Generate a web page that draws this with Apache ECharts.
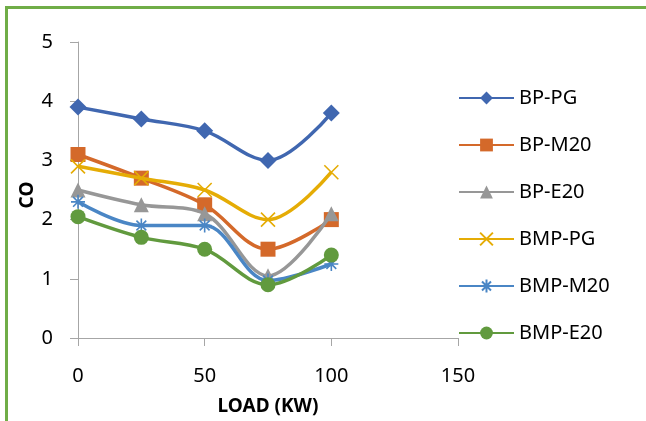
<!DOCTYPE html>
<html>
<head>
<meta charset="utf-8">
<script src="https://cdn.jsdelivr.net/npm/echarts@6/dist/echarts.min.js"></script>
<style>
html,body{margin:0;padding:0;background:#fff;}
#chart{width:646px;height:421px;}
</style>
</head>
<body>
<div id="chart"></div>
<script>
var loads = [0, 25, 50, 75, 100];
var bpPG   = [3.9, 3.7, 3.5, 3.0, 3.8];
var bpM20  = [3.1, 2.7, 2.25, 1.5, 2.0];
var bpE20  = [2.5, 2.25, 2.1, 1.05, 2.1];
var bmpPG  = [2.9, 2.7, 2.5, 2.0, 2.8];
var bmpM20 = [2.3, 1.9, 1.9, 0.97, 1.25];
var bmpE20 = [2.05, 1.7, 1.5, 0.9, 1.4];
var seriesNames = ['BP-PG', 'BP-M20', 'BP-E20', 'BMP-PG', 'BMP-M20', 'BMP-E20'];
var xTicks = [0, 50, 100, 150];
var yTicks = [0, 1, 2, 3, 4, 5];
var yTitle = 'CO';
var xTitle = 'LOAD (KW)';

var colors = ['#4067B0', '#D4692A', '#979797', '#E5AC05', '#4A86C5', '#619A3E'];
var FONT = 'Noto Sans';

function pairs(vals){ return loads.map(function(x,i){ return [x, vals[i]]; }); }

var crossPath = 'path://M0,0L10,10M10,0L0,10';
var starPath = 'path://M5,0L5,10M0,5L10,5M1.5,1.5L8.5,8.5M8.5,1.5L1.5,8.5';

var defs = [
  {data: bpPG, symbol: 'diamond', size: 17},
  {data: bpM20, symbol: 'rect', size: 15},
  {data: bpE20, symbol: 'triangle', size: 15},
  {data: bmpPG, symbol: crossPath, size: 14, stroke: true},
  {data: bmpM20, symbol: starPath, size: 14, stroke: true},
  {data: bmpE20, symbol: 'circle', size: 15}
];

var series = defs.map(function(d, i){
  var item = {color: colors[i]};
  if (d.stroke) { item = {color: 'rgba(0,0,0,0)', borderColor: colors[i], borderWidth: 1.6}; }
  return {
    name: seriesNames[i],
    type: 'line',
    smooth: 0.35,
    data: pairs(d.data),
    symbol: d.symbol,
    symbolSize: d.size,
    showAllSymbol: true,
    lineStyle: {color: colors[i], width: 3.5},
    itemStyle: item,
    z: 2 + i
  };
});

var chart = echarts.init(document.getElementById('chart'), null, {renderer: 'canvas'});
chart.setOption({
  animation: false,
  backgroundColor: '#fff',
  textStyle: {fontFamily: FONT},
  graphic: [
    {type: 'rect', shape: {x: 5, y: 6, width: 641, height: 3}, style: {fill: '#70AD47'}},
    {type: 'rect', shape: {x: 5, y: 6, width: 3, height: 415}, style: {fill: '#70AD47'}},
    {type: 'text', x: 28, y: 195, rotation: Math.PI / 2,
      style: {text: yTitle, fill: '#000', font: 'bold 19px "Noto Sans"', align: 'center', verticalAlign: 'middle'}}
  ],
  grid: {left: 78, right: 188, top: 42, bottom: 79, containLabel: false},
  xAxis: {
    type: 'value', min: 0, max: 150, interval: 50,
    name: xTitle, nameLocation: 'middle', nameGap: 59,
    nameTextStyle: {fontFamily: FONT, fontSize: 19, fontWeight: 'bold', color: '#000'},
    axisLine: {show: true, onZero: false, lineStyle: {color: '#a6a6a6', width: 1}},
    axisTick: {show: true, length: 8, lineStyle: {color: '#a6a6a6'}},
    axisLabel: {fontFamily: FONT, fontSize: 20, color: '#000', margin: 28,
      formatter: function(v){ return xTicks.indexOf(v) >= 0 ? String(v) : ''; }},
    splitLine: {show: false}
  },
  yAxis: {
    type: 'value', min: 0, max: 5, interval: 1,
    axisLine: {show: true, lineStyle: {color: '#a6a6a6', width: 1}},
    axisTick: {show: true, length: 8, lineStyle: {color: '#a6a6a6'}},
    axisLabel: {fontFamily: FONT, fontSize: 20, color: '#000', margin: 25,
      formatter: function(v){ return yTicks.indexOf(v) >= 0 ? String(v) : ''; }},
    splitLine: {show: false}
  },
  legend: {
    orient: 'vertical', left: 453, top: 83,
    itemWidth: 55, itemHeight: 16, itemGap: 27,
    textStyle: {fontFamily: FONT, fontSize: 20, color: '#000'},
    data: seriesNames
  },
  series: series
});
</script>
</body>
</html>
